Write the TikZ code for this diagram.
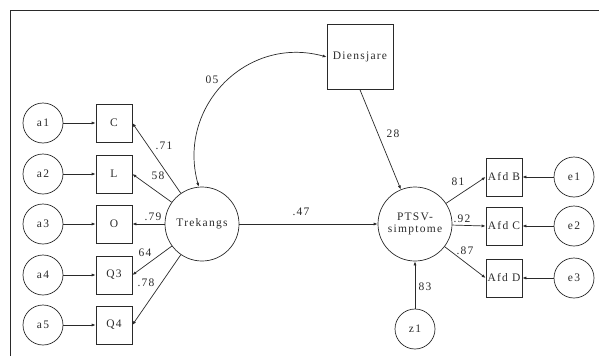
\documentclass[tikz,border=0pt]{standalone}
\usepackage{fontspec}
\setmainfont{Liberation Serif}[LetterSpace=11]
\usetikzlibrary{arrows.meta}
\definecolor{ink}{HTML}{2a2a2a}
\tikzset{
  every node/.style={font=\fontsize{11.5}{13}\selectfont, text=ink},
  lat/.style={draw=ink, line width=0.7pt, circle, minimum size=74pt, inner sep=0pt, align=center},
  err/.style={draw=ink, line width=0.7pt, circle, minimum size=40pt, inner sep=0pt},
  obs/.style={draw=ink, line width=0.7pt, rectangle, minimum width=36pt, minimum height=38pt, inner sep=0pt},
  arr/.style={draw=ink, line width=0.7pt, -{Latex[length=4pt,width=3pt]}},
  dblarr/.style={draw=ink, line width=0.7pt, {Latex[length=4pt,width=3pt]}-{Latex[length=4pt,width=3pt]}},
  lbl/.style={inner sep=0pt}
}
\begin{document}
\begin{tikzpicture}[x=1pt,y=-1pt]
\useasboundingbox (0,0) rectangle (599,356);
\draw[ink, line width=0.9pt] (10,356) -- (10,10) -- (599,10);
% left error terms and indicators
\node[err] (a1) at (43,123) {a1};
\node[err] (a2) at (43,174) {a2};
\node[err] (a3) at (43,224) {a3};
\node[err] (a4) at (43,275) {a4};
\node[err] (a5) at (43,325) {a5};
\node[obs] (C) at (114,123) {C};
\node[obs] (L) at (114,174) {L};
\node[obs] (O) at (114,224) {O};
\node[obs] (Q3) at (114,275) {Q3};
\node[obs] (Q4) at (114,325) {Q4};
% latent variables
\node[lat] (trek) at (202,224) {Trekangs};
\node[lat] (ptsv) at (415,224) {PTSV-\\[-1pt]simptome};
\node[obs, minimum width=66pt, minimum height=65pt] (dien) at (360,57) {Diensjare};
\node[err] (z1) at (415,329) {z1};
% right indicators
\node[obs] (B) at (504,177) {Afd B};
\node[obs] (AC) at (504,226) {Afd C};
\node[obs] (D) at (504,278) {Afd D};
\node[err] (e1) at (574,177) {e1};
\node[err] (e2) at (574,226) {e2};
\node[err] (e3) at (574,278) {e3};
% connectors
\foreach \a/\b in {a1/C, a2/L, a3/O, a4/Q3, a5/Q4}{
  \draw[arr] (\a) -- (\b);
}
\foreach \b in {C, L, O, Q3, Q4}{
  \draw[arr] (trek) -- (\b.east);
}
\draw[arr] (trek) -- (ptsv);
\draw[arr] (dien.south) -- (ptsv);
\draw[arr] (z1) -- (ptsv);
\foreach \b in {B, AC, D}{
  \draw[arr] (ptsv) -- (\b.west);
}
\foreach \e/\b in {e1/B, e2/AC, e3/D}{
  \draw[arr] (\e) -- (\b);
}
\draw[dblarr] (trek.95) .. controls +(-22,-80) and +(-80,-22) .. (dien.west);
% coefficient labels
\node[lbl] (l05) at (212,80) {05};
\node[lbl] (l71) at (164,146) {.71};
\node[lbl] (l58) at (158,176) {58};
\node[lbl] (l79) at (153,217) {.79};
\node[lbl] (l64) at (145,253) {64};
\node[lbl] (l78) at (146,283) {.78};
\node[lbl] (l28) at (393,134) {28};
\node[lbl] (l47) at (301,212) {.47};
\node[lbl] (l81) at (458,182) {81};
\node[lbl] (l92) at (462,219) {.92};
\node[lbl] (l87) at (465,251) {.87};
\node[lbl] (l83) at (425,287) {83};
\end{tikzpicture}
\end{document}
